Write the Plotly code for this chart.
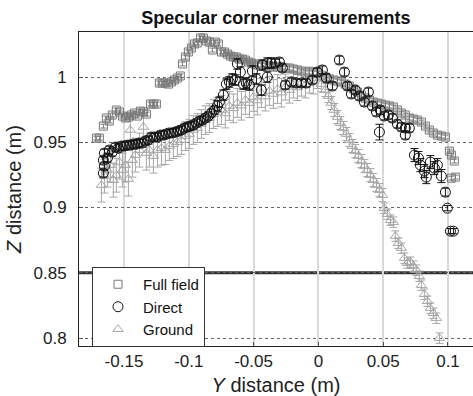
import plotly.graph_objects as go

# ---------------- data ----------------
full_y = [-0.1713, -0.1690, -0.1659, -0.1636, -0.1613, -0.1590, -0.1559, -0.1535, -0.1512, -0.1489,
          -0.1466, -0.1443, -0.1420, -0.1397, -0.1373, -0.1350, -0.1327, -0.1296, -0.1273, -0.1250,
          -0.1227, -0.1204, -0.1181, -0.1157, -0.1134, -0.1111, -0.1088, -0.1065, -0.1049, -0.1026,
          -0.1003, -0.0980, -0.0957, -0.0934, -0.0910, -0.0887, -0.0864, -0.0841, -0.0818, -0.0795,
          -0.0772, -0.0748, -0.0725, -0.0702, -0.0679, -0.0656, -0.0633, -0.0610, -0.0586, -0.0563,
          -0.0540, -0.0517, -0.0494, -0.0471, -0.0440, -0.0409, -0.0378, -0.0347, -0.0316, -0.0285,
          -0.0255, -0.0224, -0.0193, -0.0162, -0.0131, -0.0100, -0.0069, -0.0039, -0.0008, 0.0023,
          0.0054, 0.0085, 0.0116, 0.0147, 0.0177, 0.0208, 0.0239, 0.0270, 0.0301, 0.0332,
          0.0363, 0.0394, 0.0424, 0.0455, 0.0486, 0.0517, 0.0548, 0.0579, 0.0610, 0.0640,
          0.0671, 0.0702, 0.0733, 0.0764, 0.0795, 0.0826, 0.0856, 0.0887, 0.0918, 0.0949,
          0.0980, 0.1011, 0.1026, 0.1049, 0.1057, 0.1026]
full_z = [0.9532, 0.9532, 0.9624, 0.9686, 0.9663, 0.9709, 0.9747, 0.9732, 0.9701, 0.9686,
          0.9693, 0.9709, 0.9724, 0.9701, 0.9739, 0.9732, 0.9716, 0.9793, 0.9793, 0.9793,
          0.9954, 0.9954, 0.9954, 0.9946, 0.9962, 0.9977, 0.9992, 1.0008, 1.0100, 1.0153,
          1.0192, 1.0222, 1.0253, 1.0261, 1.0299, 1.0299, 1.0276, 1.0268, 1.0207, 1.0268,
          1.0253, 1.0192, 1.0192, 1.0176, 1.0161, 1.0153, 1.0153, 1.0138, 1.0138, 1.0130,
          1.0115, 1.0107, 1.0100, 1.0092, 1.0092, 1.0092, 1.0084, 1.0077, 1.0077, 1.0077,
          1.0069, 1.0069, 1.0061, 1.0054, 1.0046, 1.0038, 1.0038, 1.0031, 1.0031, 1.0015,
          1.0000, 0.9985, 0.9977, 0.9969, 0.9962, 0.9946, 0.9931, 0.9908, 0.9885, 0.9862,
          0.9839, 0.9824, 0.9808, 0.9801, 0.9793, 0.9785, 0.9778, 0.9770, 0.9747, 0.9724,
          0.9709, 0.9686, 0.9678, 0.9670, 0.9655, 0.9624, 0.9594, 0.9571, 0.9555, 0.9548,
          0.9540, 0.9432, 0.9402, 0.9356, 0.9233, 0.9225]
full_err = [0.0015] * len(full_y)

direct_y = [-0.1659, -0.1659, -0.1651, -0.1651, -0.1628, -0.1613, -0.1590, -0.1566, -0.1543, -0.1520,
            -0.1497, -0.1474, -0.1451, -0.1427, -0.1404, -0.1381, -0.1358, -0.1335, -0.1312, -0.1289,
            -0.1265, -0.1242, -0.1219, -0.1196, -0.1173, -0.1150, -0.1127, -0.1103, -0.1080, -0.1057,
            -0.1034, -0.1011, -0.0988, -0.0965, -0.0941, -0.0918, -0.0895, -0.0872, -0.0849, -0.0826,
            -0.0802, -0.0779, -0.0764, -0.0733, -0.0710, -0.0687, -0.0664, -0.0640, -0.0625, -0.0602,
            -0.0579, -0.0556, -0.0532, -0.0509, -0.0478, -0.0440, -0.0432, -0.0394, -0.0394, -0.0363,
            -0.0332, -0.0301, -0.0278, -0.0255, -0.0208, -0.0170, -0.0131, -0.0093, -0.0046, -0.0008,
            0.0031, 0.0062, 0.0108, 0.0162, 0.0201, 0.0224, 0.0255, 0.0285, 0.0316, 0.0355,
            0.0386, 0.0417, 0.0448, 0.0471, 0.0478, 0.0509, 0.0540, 0.0571, 0.0610, 0.0640,
            0.0671, 0.0671, 0.0702, 0.0741, 0.0772, 0.0787, 0.0818, 0.0833, 0.0864, 0.0895,
            0.0918, 0.0949, 0.0980, 0.0995, 0.1019, 0.1042]
direct_z = [0.9264, 0.9363, 0.9317, 0.9417, 0.9379, 0.9440, 0.9425, 0.9463, 0.9455, 0.9471,
            0.9471, 0.9478, 0.9478, 0.9486, 0.9486, 0.9494, 0.9494, 0.9509, 0.9517, 0.9540,
            0.9540, 0.9540, 0.9555, 0.9555, 0.9563, 0.9571, 0.9571, 0.9578, 0.9586, 0.9594,
            0.9609, 0.9617, 0.9624, 0.9632, 0.9647, 0.9663, 0.9670, 0.9686, 0.9701, 0.9724,
            0.9747, 0.9778, 0.9808, 0.9862, 0.9946, 0.9962, 0.9985, 0.9977, 1.0100, 1.0038,
            0.9946, 0.9954, 0.9939, 1.0046, 0.9985, 0.9900, 1.0092, 1.0107, 1.0000, 1.0107,
            1.0107, 1.0115, 1.0069, 0.9939, 0.9962, 0.9954, 0.9954, 0.9954, 0.9977, 1.0038,
            1.0054, 0.9992, 0.9931, 1.0130, 1.0038, 0.9931, 0.9870, 0.9900, 0.9854, 0.9808,
            0.9885, 0.9778, 0.9732, 0.9578, 0.9747, 0.9701, 0.9709, 0.9686, 0.9640, 0.9617,
            0.9609, 0.9555, 0.9609, 0.9402, 0.9379, 0.9325, 0.9279, 0.9233, 0.9348, 0.9302,
            0.9325, 0.9241, 0.9118, 0.8995, 0.8819, 0.8819]
direct_err = [0.003, 0.003, 0.003, 0.003, 0.003, 0.003, 0.003, 0.003, 0.003, 0.003,
              0.003, 0.003, 0.003, 0.003, 0.003, 0.003, 0.003, 0.003, 0.003, 0.003,
              0.003, 0.003, 0.003, 0.003, 0.003, 0.003, 0.003, 0.003, 0.003, 0.003,
              0.003, 0.003, 0.003, 0.003, 0.003, 0.003, 0.003, 0.003, 0.003, 0.003,
              0.003, 0.004, 0.004, 0.004, 0.004, 0.004, 0.004, 0.004, 0.004, 0.004,
              0.004, 0.004, 0.004, 0.004, 0.004, 0.004, 0.004, 0.004, 0.004, 0.004,
              0.003, 0.003, 0.003, 0.003, 0.003, 0.003, 0.003, 0.003, 0.003, 0.003,
              0.003, 0.003, 0.003, 0.003, 0.003, 0.003, 0.003, 0.003, 0.003, 0.003,
              0.003, 0.003, 0.003, 0.006, 0.003, 0.003, 0.003, 0.003, 0.003, 0.003,
              0.003, 0.003, 0.003, 0.005, 0.005, 0.005, 0.005, 0.005, 0.005, 0.005,
              0.005, 0.005, 0.003, 0.002, 0.002, 0.002]

ground_y = [-0.1674, -0.1651, -0.1628, -0.1605, -0.1582, -0.1559, -0.1535, -0.1512, -0.1489, -0.1466,
            -0.1451, -0.1435, -0.1412, -0.1381, -0.1350, -0.1327, -0.1304, -0.1273, -0.1242, -0.1211,
            -0.1181, -0.1150, -0.1119, -0.1088, -0.1057, -0.1026, -0.0995, -0.0965, -0.0934, -0.0903,
            -0.0872, -0.0841, -0.0810, -0.0779, -0.0748, -0.0718, -0.0687, -0.0656, -0.0625, -0.0594,
            -0.0563, -0.0532, -0.0502, -0.0471, -0.0440, -0.0409, -0.0378, -0.0347, -0.0316, -0.0285,
            -0.0255, -0.0224, -0.0193, -0.0162, -0.0131, -0.0100, -0.0069, -0.0039, -0.0008, 0.0023,
            0.0054, 0.0077, 0.0100, 0.0123, 0.0147, 0.0170, 0.0193, 0.0216, 0.0239, 0.0262,
            0.0285, 0.0309, 0.0332, 0.0355, 0.0378, 0.0401, 0.0424, 0.0448, 0.0471, 0.0494,
            0.0509, 0.0532, 0.0556, 0.0579, 0.0594, 0.0617, 0.0640, 0.0664, 0.0687, 0.0710,
            0.0733, 0.0756, 0.0779, 0.0795, 0.0818, 0.0841, 0.0864, 0.0887, 0.0910, 0.0934]
ground_z = [0.9172, 0.9241, 0.9287, 0.9325, 0.9210, 0.9248, 0.9348, 0.9287, 0.9325, 0.9218,
            0.9594, 0.9363, 0.9402, 0.9440, 0.9617, 0.9417, 0.9440, 0.9394, 0.9440, 0.9455,
            0.9440, 0.9471, 0.9486, 0.9501, 0.9517, 0.9547, 0.9563, 0.9594, 0.9609, 0.9640,
            0.9670, 0.9686, 0.9716, 0.9732, 0.9747, 0.9720, 0.9778, 0.9760, 0.9801, 0.9780,
            0.9824, 0.9800, 0.9847, 0.9820, 0.9877, 0.9850, 0.9893, 0.9870, 0.9908, 0.9880,
            0.9923, 0.9900, 0.9939, 0.9920, 0.9954, 0.9940, 0.9977, 0.9970, 0.9992, 0.9946,
            0.9900, 0.9854, 0.9801, 0.9747, 0.9693, 0.9647, 0.9609, 0.9563, 0.9517, 0.9471,
            0.9432, 0.9394, 0.9356, 0.9317, 0.9287, 0.9248, 0.9210, 0.9172, 0.9133, 0.9095,
            0.8995, 0.8949, 0.8903, 0.8888, 0.8781, 0.8727, 0.8689, 0.8612, 0.8574, 0.8581,
            0.8551, 0.8520, 0.8474, 0.8405, 0.8336, 0.8282, 0.8229, 0.8190, 0.8152, 0.7999]
ground_err = [0.013, 0.013, 0.013, 0.013, 0.013, 0.013, 0.013, 0.013, 0.013, 0.013,
              0.013, 0.013, 0.013, 0.013, 0.013, 0.013, 0.013, 0.013, 0.013, 0.013,
              0.011, 0.011, 0.011, 0.011, 0.011, 0.011, 0.011, 0.011, 0.011, 0.011,
              0.011, 0.011, 0.011, 0.011, 0.011, 0.011, 0.011, 0.011, 0.011, 0.011,
              0.011, 0.011, 0.011, 0.011, 0.011, 0.011, 0.011, 0.011, 0.011, 0.011,
              0.010, 0.010, 0.010, 0.010, 0.010, 0.010, 0.010, 0.010, 0.008, 0.006,
              0.005, 0.005, 0.005, 0.005, 0.005, 0.005, 0.005, 0.005, 0.005, 0.005,
              0.005, 0.005, 0.005, 0.005, 0.005, 0.005, 0.005, 0.005, 0.005, 0.005,
              0.004, 0.004, 0.004, 0.004, 0.004, 0.004, 0.004, 0.004, 0.004, 0.004,
              0.004, 0.004, 0.004, 0.004, 0.004, 0.004, 0.004, 0.004, 0.004, 0.004]

x_ticks = [-0.15, -0.1, -0.05, 0, 0.05, 0.1]
x_tick_text = ["-0.15", "-0.1", "-0.05", "0", "0.05", "0.1"]
y_ticks = [0.8, 0.85, 0.9, 0.95, 1.0]
y_tick_text = ["0.8", "0.85", "0.9", "0.95", "1"]

FONT = "Liberation Sans, Arial, sans-serif"

fig = go.Figure()

fig.add_trace(go.Scatter(
    x=ground_y, y=ground_z, mode="markers", name="Ground",
    marker=dict(symbol="triangle-up-open", size=9, color="#a6a6a6", line=dict(width=1, color="#a6a6a6")),
    error_y=dict(type="data", array=ground_err, color="#a6a6a6", thickness=1, width=4),
    showlegend=False,
))
fig.add_trace(go.Scatter(
    x=full_y, y=full_z, mode="markers", name="Full field",
    marker=dict(symbol="square-open", size=8, color="#777777", line=dict(width=1, color="#777777")),
    error_y=dict(type="data", array=full_err, color="#777777", thickness=1, width=3),
))
fig.add_trace(go.Scatter(
    x=direct_y, y=direct_z, mode="markers", name="Direct",
    marker=dict(symbol="circle-open", size=10, color="#111111", line=dict(width=1, color="#111111")),
    error_y=dict(type="data", array=direct_err, color="#111111", thickness=1, width=4),
))
# legend entry for ground in proper order
fig.add_trace(go.Scatter(
    x=[None], y=[None], mode="markers", name="Ground",
    marker=dict(symbol="triangle-up-open", size=9, color="#a6a6a6", line=dict(width=1, color="#a6a6a6")),
))

fig.add_hline(y=0.85, line=dict(color="#333333", width=3), layer="below")

fig.update_layout(
    width=473, height=396,
    margin=dict(l=79, r=0, t=32, b=50),
    paper_bgcolor="white", plot_bgcolor="white",
    font=dict(family=FONT, size=17, color="#222222"),
    title=dict(text="<b>Specular corner measurements</b>", x=0.5833, xanchor="center",
               y=0.955, yanchor="middle", font=dict(size=18, color="#111111")),
    legend=dict(x=0.033, y=0.2516, xanchor="left", yanchor="top",
                bgcolor="white", bordercolor="#333333", borderwidth=1,
                font=dict(size=15, color="#111111"), tracegroupgap=0,
                itemwidth=40),
    xaxis=dict(range=[-0.1847, 0.1193], tickvals=x_ticks, ticktext=x_tick_text,
               showgrid=True, gridcolor="#d9d9d9", gridwidth=2,
               showline=True, linecolor="#222222", linewidth=1, mirror=True,
               ticks="inside", ticklen=4, tickcolor="#555555", zeroline=False,
               automargin=False,
               title=dict(text="<i>Y</i> distance (m)", standoff=15)),
    yaxis=dict(range=[0.7939, 1.0345], tickvals=y_ticks, ticktext=y_tick_text,
               showgrid=True, gridcolor="#666666", gridwidth=1, griddash="dot",
               showline=True, linecolor="#222222", linewidth=1, mirror=False,
               ticks="inside", ticklen=4, tickcolor="#555555", zeroline=False,
               ticklabelstandoff=8, automargin=False,
               title=dict(text="<i>Z</i> distance (m)", standoff=6)),
)

fig.write_html("out.html")
